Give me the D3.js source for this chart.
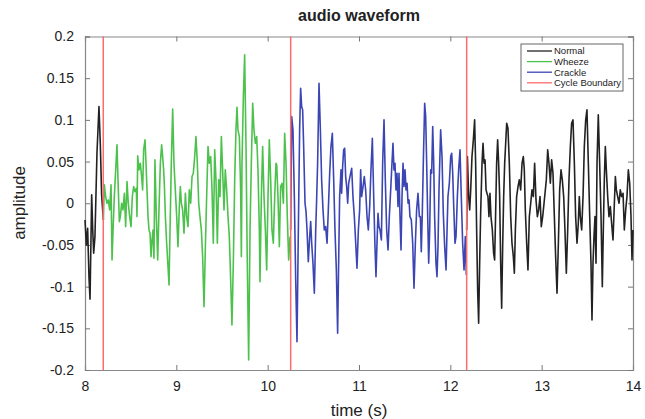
<!DOCTYPE html>
<html>
<head>
<meta charset="utf-8">
<script src="https://cdn.jsdelivr.net/npm/d3@7"></script>
<style>
  body { margin: 0; background: #fff; }
  text { font-family: "Liberation Sans", Arial, sans-serif; fill: #222; }
</style>
</head>
<body>
<script>
// waveform values, [time (s), amplitude]
var normalStart = [
  [8.000,-0.020],[8.015,-0.050],[8.029,-0.030],[8.044,-0.090],[8.055,-0.115],
  [8.066,-0.040],[8.073,0.010],[8.084,-0.030],[8.095,-0.060],[8.109,-0.040],
  [8.131,0.060],[8.153,0.116],[8.168,0.070],[8.182,0.010],[8.201,-0.020]
];
var wheeze = [
  [8.201,-0.020],[8.212,0.022],[8.226,0.008],[8.241,0],[8.255,0.004],[8.270,-0.008],
  [8.285,0.022],[8.296,-0.068],[8.307,-0.032],[8.321,0.008],[8.336,0.040],
  [8.350,0.070],[8.365,0.016],[8.376,-0.022],[8.387,-0.016],[8.401,0],
  [8.416,-0.008],[8.431,0.012],[8.445,-0.028],[8.460,0.026],[8.474,0],
  [8.489,-0.016],[8.504,-0.028],[8.518,0.008],[8.533,0.020],[8.547,0.014],
  [8.562,0.018],[8.569,-0.016],[8.577,0.057],[8.591,0.040],[8.606,0.048],
  [8.620,0.032],[8.631,0.016],[8.642,0.064],[8.657,0.076],[8.668,0.048],
  [8.679,0.016],[8.690,-0.016],[8.701,-0.032],[8.712,-0.036],[8.723,-0.064],
  [8.734,-0.044],[8.745,-0.032],[8.755,-0.066],[8.766,0.052],[8.781,-0.016],
  [8.796,-0.068],[8.810,-0.008],[8.825,0.048],[8.839,0.070],[8.850,0.056],
  [8.861,0.040],[8.869,0.022],[8.880,-0.016],[8.894,-0.048],[8.909,-0.076],
  [8.920,-0.098],[8.931,-0.032],[8.945,0.048],[8.960,0.113],[8.974,0.048],
  [8.989,0.016],[9.004,-0.016],[9.018,-0.052],[9.033,-0.004],[9.044,0.020],
  [9.055,0],[9.069,-0.008],[9.084,-0.036],[9.099,0.012],[9.113,-0.016],
  [9.128,-0.028],[9.142,0.016],[9.157,0],[9.172,0.032],[9.186,0.036],
  [9.201,0.056],[9.215,0.080],[9.230,0.048],[9.245,0],[9.259,-0.016],
  [9.274,-0.032],[9.288,-0.064],[9.303,-0.124],[9.318,-0.052],[9.332,0.008],
  [9.347,0.068],[9.361,0.048],[9.376,0.056],[9.391,0.016],[9.405,-0.048],
  [9.420,0.064],[9.434,0.028],[9.449,-0.048],[9.464,0.028],[9.478,0.008],
  [9.493,0.080],[9.507,0.040],[9.522,-0.008],[9.536,0.040],[9.551,0.016],
  [9.566,-0.016],[9.580,-0.040],[9.595,-0.092],[9.609,-0.146],[9.624,-0.072],
  [9.639,0.028],[9.653,0.088],[9.664,0.115],[9.675,0.088],[9.690,0.080],
  [9.704,0.016],[9.712,-0.064],[9.719,0.048],[9.734,0.128],[9.748,0.178],
  [9.763,0.068],[9.777,-0.072],[9.792,-0.188],[9.807,-0.032],[9.821,0.048],
  [9.836,0.120],[9.850,0.088],[9.865,0.072],[9.880,0.080],[9.894,0.040],
  [9.909,-0.032],[9.916,-0.094],[9.931,0.008],[9.945,0.068],[9.960,0.008],
  [9.975,-0.032],[9.989,-0.080],[10.004,0.008],[10.018,0.076],[10.033,0.028],
  [10.047,-0.032],[10.062,-0.048],[10.077,0.008],[10.091,0.048],[10.099,0.046],
  [10.113,0.008],[10.128,-0.052],[10.142,0.020],[10.157,0.024],[10.172,0],
  [10.186,0.084],[10.201,0.048],[10.215,-0.016],[10.230,-0.068],[10.245,-0.040]
];
var crackle = [
  [10.252,-0.032],[10.263,0.104],[10.277,0.088],[10.292,0.008],[10.307,-0.092],
  [10.321,-0.166],[10.336,-0.032],[10.350,0.088],[10.361,0.138],[10.372,0.116],
  [10.383,0.112],[10.394,0.068],[10.409,0],[10.420,-0.010],[10.431,-0.032],
  [10.445,-0.070],[10.460,-0.040],[10.471,-0.022],[10.482,-0.048],[10.496,-0.072],
  [10.511,-0.108],[10.526,-0.032],[10.536,0.004],[10.547,0.048],[10.562,0.144],
  [10.577,0.088],[10.591,0.028],[10.606,-0.008],[10.620,-0.032],[10.635,-0.028],
  [10.650,-0.048],[10.664,-0.008],[10.679,0.036],[10.693,0.068],[10.708,0.084],
  [10.723,0.028],[10.737,-0.032],[10.752,-0.080],[10.766,-0.156],[10.777,-0.072],
  [10.788,0.008],[10.803,0.040],[10.810,0.012],[10.821,0.044],[10.832,0.064],
  [10.843,0.066],[10.854,0.032],[10.865,0.020],[10.876,0],[10.887,0.024],
  [10.901,0.032],[10.920,0.042],[10.934,0.008],[10.949,-0.016],[10.964,-0.048],
  [10.978,-0.078],[10.993,-0.032],[11.007,-0.008],[11.018,0.040],[11.029,0.008],
  [11.044,0.020],[11.058,0.032],[11.073,0.016],[11.088,-0.016],[11.102,-0.032],
  [11.117,-0.004],[11.131,0.040],[11.146,0.078],[11.161,0.008],[11.175,-0.052],
  [11.186,-0.088],[11.197,-0.048],[11.208,-0.012],[11.219,-0.028],[11.230,-0.032],
  [11.245,-0.044],[11.259,0.048],[11.274,0.100],[11.288,0.028],[11.303,-0.032],
  [11.318,-0.056],[11.332,-0.016],[11.347,0.016],[11.361,0.048],[11.372,0.072],
  [11.383,0.040],[11.394,0.048],[11.405,0.016],[11.416,0.036],[11.427,-0.004],
  [11.438,0.036],[11.449,-0.016],[11.460,-0.056],[11.471,0.008],[11.482,0.048],
  [11.493,0.020],[11.504,0.040],[11.515,0.016],[11.526,0.024],[11.537,0],
  [11.548,0.004],[11.558,-0.016],[11.573,-0.020],[11.588,-0.048],[11.602,-0.102],
  [11.617,-0.048],[11.631,-0.008],[11.646,0.012],[11.661,-0.016],[11.672,-0.016],
  [11.682,-0.058],[11.693,-0.012],[11.704,0.048],[11.719,0.120],[11.730,0.104],
  [11.741,0.048],[11.752,-0.016],[11.763,-0.072],[11.774,-0.032],[11.785,0.040],
  [11.796,0.036],[11.807,0.092],[11.818,0.048],[11.828,-0.016],[11.843,-0.072],
  [11.854,-0.088],[11.865,-0.052],[11.876,0.016],[11.894,0.088],[11.909,0.056],
  [11.923,-0.012],[11.938,-0.052],[11.953,-0.080],[11.964,-0.032],[11.974,0.008],
  [11.989,0.024],[12.004,0.056],[12.015,0.060],[12.026,0.036],[12.036,0],
  [12.051,-0.048],[12.062,-0.040],[12.077,0.008],[12.091,0.040],[12.106,0.064],
  [12.120,0.008],[12.135,-0.048],[12.150,-0.080],[12.164,-0.040],[12.175,-0.086]
];
var normalEnd = [
  [12.179,-0.032],[12.187,0.056],[12.201,0.008],[12.212,-0.008],[12.223,0.016],
  [12.237,0.056],[12.252,0.076],[12.266,0.100],[12.277,0.048],[12.288,-0.032],
  [12.299,-0.104],[12.310,-0.144],[12.321,-0.072],[12.332,-0.012],[12.347,0.048],
  [12.358,0.072],[12.369,0.048],[12.380,0.052],[12.391,0.016],[12.401,0.012],
  [12.412,0.008],[12.423,-0.016],[12.434,0.012],[12.445,-0.016],[12.460,-0.032],
  [12.474,-0.060],[12.485,-0.068],[12.496,-0.012],[12.507,0.048],[12.518,0.076],
  [12.529,0.048],[12.540,0.008],[12.551,-0.072],[12.562,-0.126],[12.573,-0.052],
  [12.584,0.008],[12.595,0.048],[12.606,0.072],[12.617,0.096],[12.631,0.090],
  [12.646,0.048],[12.661,-0.016],[12.675,-0.048],[12.690,-0.064],[12.701,-0.084],
  [12.712,-0.032],[12.726,0.008],[12.741,0.020],[12.755,0.028],[12.770,0.016],
  [12.785,0.048],[12.799,0.056],[12.810,0.040],[12.821,-0.008],[12.836,-0.048],
  [12.850,-0.080],[12.865,-0.016],[12.880,0],[12.894,0.016],[12.909,0.008],
  [12.923,0.048],[12.938,0.004],[12.953,-0.016],[12.967,-0.008],[12.982,0.008],
  [12.996,-0.028],[13.011,-0.016],[13.026,0],[13.051,0.028],[13.066,0.064],
  [13.080,0.048],[13.095,0.024],[13.109,0.052],[13.124,0.036],[13.139,-0.016],
  [13.153,-0.064],[13.168,-0.108],[13.182,-0.052],[13.197,0.016],[13.212,0.040],
  [13.226,0.028],[13.241,0.008],[13.255,-0.032],[13.270,-0.084],[13.285,-0.032],
  [13.299,0.028],[13.314,0.068],[13.328,0.096],[13.343,0.100],[13.358,0.048],
  [13.372,-0.016],[13.387,-0.048],[13.401,-0.024],[13.412,0.008],[13.423,-0.016],
  [13.438,-0.032],[13.453,0.008],[13.467,0.068],[13.482,0.100],[13.496,0.112],
  [13.511,0.048],[13.526,-0.016],[13.540,-0.072],[13.551,-0.140],[13.562,-0.072],
  [13.573,-0.040],[13.584,-0.016],[13.595,-0.072],[13.606,0.048],[13.620,0.106],
  [13.635,0.048],[13.650,-0.016],[13.664,-0.100],[13.675,-0.032],[13.686,0.028],
  [13.697,0.068],[13.708,0.040],[13.723,0.008],[13.737,-0.016],[13.752,-0.004],
  [13.766,-0.024],[13.781,-0.044],[13.796,0],[13.807,0.032],[13.818,0.016],
  [13.832,0.008],[13.847,0],[13.861,0.016],[13.876,0.008],[13.891,0.012],
  [13.905,-0.032],[13.920,-0.008],[13.934,0.008],[13.949,0.040],[13.964,0.024],
  [13.978,-0.016],[13.989,-0.068],[14.000,-0.032]
];
var boundaries = [8.2, 10.252, 12.179];
var xTicks = [8, 9, 10, 11, 12, 13, 14];
var yTicks = [-0.2, -0.15, -0.1, -0.05, 0, 0.05, 0.1, 0.15, 0.2];
var legendNames = ["Normal", "Wheeze", "Crackle", "Cycle Boundary"];
var legendColors = ["#222", "#4cc24c", "#3b45b3", "#ff6b6b"];

var W = 645, H = 419;
// plot frame edges (window.top is read-only, so no "top" here)
var padL = 85, padR = 633, padT = 36.5, padB = 370;

var svg = d3.select("body").append("svg")
    .attr("width", W)
    .attr("height", H);

var x = d3.scaleLinear().domain([8, 14]).range([padL, padR]);
var y = d3.scaleLinear().domain([-0.2, 0.2]).range([padB, padT]);

var line = d3.line()
    .x(function(d) { return x(d[0]); })
    .y(function(d) { return y(d[1]); });

var fmt = function(v) { return String(+v.toFixed(2)); };

function styleAxis(g) {
  g.select(".domain").attr("stroke", "#888").attr("stroke-width", 1.2);
  g.selectAll(".tick line").attr("stroke", "#777");
  g.selectAll(".tick text")
    .attr("font-size", "14px")
    .attr("font-family", "Liberation Sans, Arial, sans-serif")
    .attr("fill", "#222");
}

// ticks go inward on all four sides, like the original
svg.append("g").attr("transform", "translate(0," + padB + ")")
    .call(d3.axisBottom(x).tickValues(xTicks).tickSize(-5).tickPadding(11).tickFormat(fmt))
    .call(styleAxis);
svg.append("g").attr("transform", "translate(0," + padT + ")")
    .call(d3.axisTop(x).tickValues(xTicks).tickSize(-5).tickFormat(""))
    .call(styleAxis);
svg.append("g").attr("transform", "translate(" + padL + ",0)")
    .call(d3.axisLeft(y).tickValues(yTicks).tickSize(-5).tickPadding(11).tickFormat(fmt))
    .call(styleAxis);
svg.append("g").attr("transform", "translate(" + padR + ",0)")
    .call(d3.axisRight(y).tickValues(yTicks).tickSize(-5).tickFormat(""))
    .call(styleAxis);

// waveform pieces
var pieces = [
  [normalStart, legendColors[0]],
  [wheeze, legendColors[1]],
  [crackle, legendColors[2]],
  [normalEnd, legendColors[0]]
];
var plot = svg.append("g");
plot.selectAll(".wave").data(pieces).enter().append("path")
    .attr("class", "wave")
    .attr("d", function(p) { return line(p[0]); })
    .attr("fill", "none")
    .attr("stroke", function(p) { return p[1]; })
    .attr("stroke-width", 1.6)
    .attr("stroke-linejoin", "round");

plot.selectAll(".boundary").data(boundaries).enter().append("line")
    .attr("class", "boundary")
    .attr("x1", function(d) { return x(d); }).attr("x2", function(d) { return x(d); })
    .attr("y1", padT).attr("y2", padB)
    .attr("stroke", legendColors[3]).attr("stroke-width", 1.5);

// legend box
var lg = svg.append("g").attr("transform", "translate(521,44)");
lg.append("rect").attr("width", 102).attr("height", 47)
    .attr("fill", "#fff").attr("stroke", "#666").attr("stroke-width", 1);
var rows = lg.selectAll(".row").data(legendNames).enter().append("g")
    .attr("transform", function(d, i) { return "translate(0," + (7 + i * 10.6) + ")"; });
rows.append("line").attr("x1", 6).attr("x2", 31)
    .attr("stroke", function(d, i) { return legendColors[i]; }).attr("stroke-width", 1.3);
rows.append("text").attr("x", 33).attr("y", 3.3)
    .attr("font-size", "9.5px").text(function(d) { return d; });

// titles
svg.append("text").attr("x", (padL + padR) / 2).attr("y", 21)
    .attr("text-anchor", "middle").attr("font-size", "16px").attr("font-weight", "bold")
    .text("audio waveform");
svg.append("text").attr("x", (padL + padR) / 2).attr("y", 416)
    .attr("text-anchor", "middle").attr("font-size", "17px")
    .text("time (s)");
svg.append("text").attr("transform", "translate(25,203) rotate(-90)")
    .attr("text-anchor", "middle").attr("font-size", "17px")
    .text("amplitude");
</script>
</body>
</html>
